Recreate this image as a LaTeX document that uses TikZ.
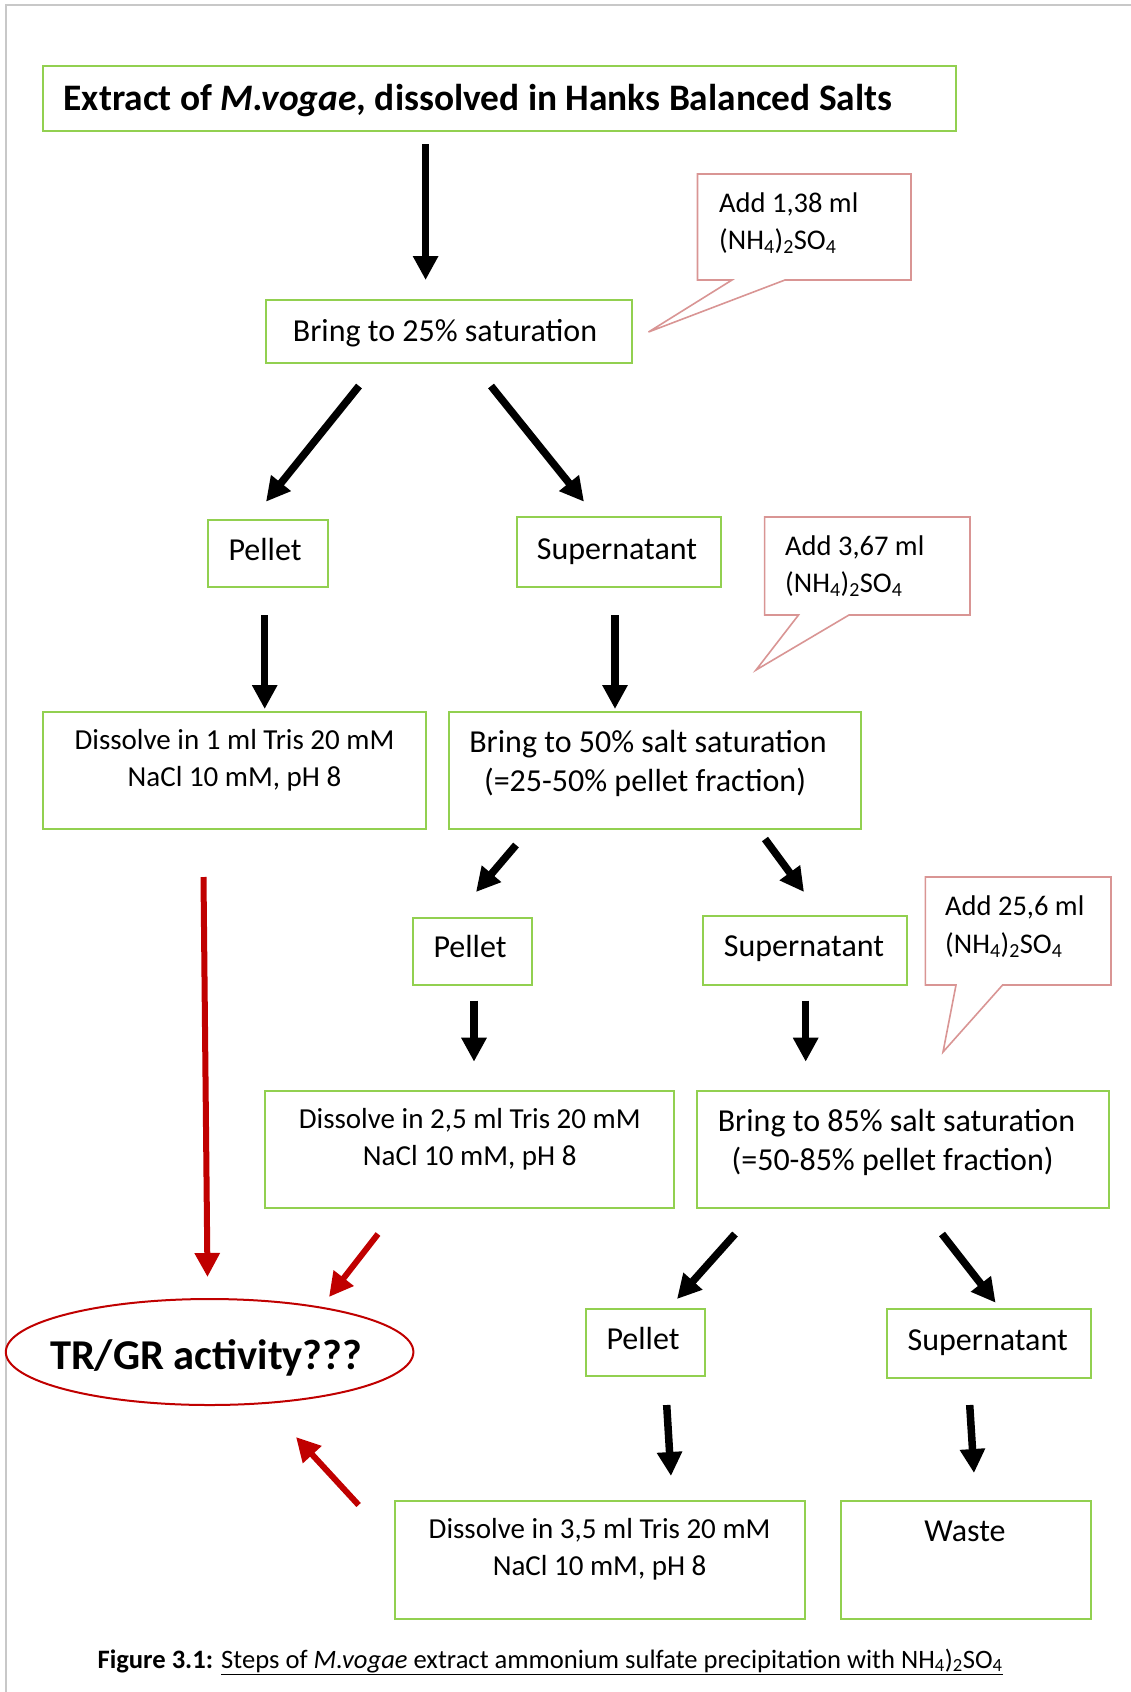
\documentclass[tikz,border=0pt]{standalone}
\usepackage{fontspec}
\setmainfont{Carlito}
\usetikzlibrary{arrows.meta,shapes.geometric}
\definecolor{boxgreen}{RGB}{146,208,80}
\definecolor{callpink}{RGB}{217,149,148}
\definecolor{arrred}{RGB}{192,0,0}
\definecolor{framegray}{RGB}{200,200,200}
\tikzset{
  stepbox/.style={draw=boxgreen, line width=2pt, inner sep=0pt},
  blackarr/.style={line width=7.5pt, -{Triangle[length=24pt,width=24pt]}},
  redarr/.style={draw=arrred, line width=6pt, -{Triangle[length=24pt,width=24pt]}, color=arrred},
  callout/.style={draw=callpink, line width=1.6pt, fill=white, line join=miter},
  txt/.style={inner sep=0pt, anchor=base, font=\fontsize{32}{38}\selectfont},
  smalltxt/.style={inner sep=0pt, anchor=base, font=\fontsize{29}{35}\selectfont},
  calltxt/.style={inner sep=0pt, anchor=base west, font=\fontsize{28.5}{34}\selectfont},
}
\newcommand{\mybox}[5]{\node[stepbox, minimum width=#4-#2, minimum height=#5-#3] (#1) at ({(#2+#4)/2},{(#3+#5)/2}) {};}
\begin{document}
\begin{tikzpicture}[x=1pt,y=-1pt]
\useasboundingbox (0,0) rectangle (1131,1692);
% frame
\draw[framegray, line width=2pt] (1131,5) -- (5.7,5) -- (5.7,1692);

% boxes
\mybox{title}{43}{66}{956}{131}
\mybox{b25}{265.5}{300}{632}{363}
\mybox{pel1}{207.8}{520}{327.6}{587}
\mybox{sup1}{516.5}{516.7}{720.6}{587}
\mybox{dis1}{42.6}{712}{425.6}{829}
\mybox{b50}{448.6}{712}{860.5}{829}
\mybox{pel2}{412.6}{917.7}{532.3}{985}
\mybox{sup2}{703}{915.7}{906.7}{985}
\mybox{dis2}{264.7}{1090.7}{674.4}{1208}
\mybox{b85}{697}{1090.7}{1109}{1208}
\mybox{pel3}{585.8}{1309}{705}{1376}
\mybox{sup3}{886.7}{1309}{1091}{1378}
\mybox{dis3}{395.4}{1501}{805}{1619}
\mybox{waste}{840.5}{1501}{1091}{1619}
\node[ellipse, draw=arrred, line width=2pt, minimum width=407.6, minimum height=106, inner sep=0pt] (trgr) at (209.6,1352) {};

% texts
\node[inner sep=0pt, anchor=base west, font=\fontsize{37.4}{44}\selectfont\bfseries] (titlet) at (63.5,110) {Extract of \textit{M.vogae}, dissolved in Hanks Balanced Salts};
\node[txt] (b25t) at (445,341.7) {Bring to 25\% saturation};
\node[txt] (pel1t) at (265,560) {Pellet};
\node[txt] (sup1t) at (617,559) {Supernatant};
\node[smalltxt] (dis1a) at (234.5,749) {Dissolve in 1 ml Tris 20 mM};
\node[smalltxt] (dis1b) at (234.5,786) {NaCl 10 mM, pH 8};
\node[txt] (b50a) at (648,752.7) {Bring to 50\% salt saturation};
\node[txt] (b50b) at (645,791.7) {(=25-50\% pellet fraction)};
\node[txt] (pel2t) at (470,957) {Pellet};
\node[txt] (sup2t) at (804,956) {Supernatant};
\node[smalltxt] (dis2a) at (469.7,1128) {Dissolve in 2,5 ml Tris 20 mM};
\node[smalltxt] (dis2b) at (469.7,1165) {NaCl 10 mM, pH 8};
\node[txt] (b85a) at (896.5,1131.7) {Bring to 85\% salt saturation};
\node[txt] (b85b) at (892.6,1170) {(=50-85\% pellet fraction)};
\node[txt] (pel3t) at (643,1349) {Pellet};
\node[txt] (sup3t) at (987.7,1350) {Supernatant};
\node[smalltxt] (dis3a) at (599.6,1538) {Dissolve in 3,5 ml Tris 20 mM};
\node[smalltxt] (dis3b) at (599.6,1575) {NaCl 10 mM, pH 8};
\node[txt] (wastet) at (965,1541.7) {Waste};
\node[inner sep=0pt, anchor=base, font=\fontsize{42.5}{48}\selectfont\bfseries] (trgrt) at (206,1369) {TR/GR activity???};

% callouts
\draw[callout] (697.5,174) -- (911,174) -- (911,280) -- (785,280) -- (648.5,332) -- (732,280) -- (697.5,280) -- cycle;
\node[calltxt] (c1a) at (719,212) {Add 1,38 ml};
\node[calltxt] (c1b) at (719,249) {(NH\textsubscript{4})\textsubscript{2}SO\textsubscript{4}};
\draw[callout] (764.6,517) -- (970,517) -- (970,615) -- (849,615) -- (756,670) -- (798.5,615) -- (764.6,615) -- cycle;
\node[calltxt] (c2a) at (785,555) {Add 3,67 ml};
\node[calltxt] (c2b) at (785,592) {(NH\textsubscript{4})\textsubscript{2}SO\textsubscript{4}};
\draw[callout] (925.4,877) -- (1111,877) -- (1111,985) -- (1002.6,985) -- (943,1052) -- (956,985) -- (925.4,985) -- cycle;
\node[calltxt] (c3a) at (945,915) {Add 25,6 ml};
\node[calltxt] (c3b) at (945,953) {(NH\textsubscript{4})\textsubscript{2}SO\textsubscript{4}};

% arrow end points
\coordinate (a1s) at (425.6,144);   \coordinate (a1e) at (425.6,280);
\coordinate (a2s) at (359,386);     \coordinate (a2e) at (266,501.7);
\coordinate (a3s) at (491,386);     \coordinate (a3e) at (584,501.7);
\coordinate (a4s) at (264.7,615);   \coordinate (a4e) at (264.7,709);
\coordinate (a5s) at (615,615);     \coordinate (a5e) at (615,709);
\coordinate (a6s) at (516,845);     \coordinate (a6e) at (476,892);
\coordinate (a7s) at (765,839);     \coordinate (a7e) at (804,892);
\coordinate (a8s) at (474,1000.7);  \coordinate (a8e) at (474,1061.7);
\coordinate (a9s) at (805.7,1000.7);\coordinate (a9e) at (805.7,1061.7);
\coordinate (a10s) at (735,1234);   \coordinate (a10e) at (677,1299);
\coordinate (a11s) at (942,1234);   \coordinate (a11e) at (995.6,1302.7);
\coordinate (a12s) at (666.7,1405); \coordinate (a12e) at (671,1476);
\coordinate (a13s) at (969.7,1405); \coordinate (a13e) at (974,1473);
\coordinate (r1s) at (203.5,877);   \coordinate (r1e) at (207.5,1277);
\coordinate (r2s) at (378,1234);    \coordinate (r2e) at (329,1297);
\coordinate (r3s) at (358.6,1505);  \coordinate (r3e) at (296,1437);

\foreach \i in {1,...,13} {\draw[blackarr] (a\i s) -- (a\i e);}
\foreach \i in {1,2,3} {\draw[redarr] (r\i s) -- (r\i e);}

% caption
\node[inner sep=0pt, anchor=base west, font=\fontsize{26.6}{32}\selectfont] (caption) at (97.4,1668) {\textbf{Figure 3.1:} \underline{Steps of \textit{M.vogae} extract ammonium sulfate precipitation with NH\textsubscript{4})\textsubscript{2}SO\textsubscript{4}}};
\end{tikzpicture}
\end{document}
